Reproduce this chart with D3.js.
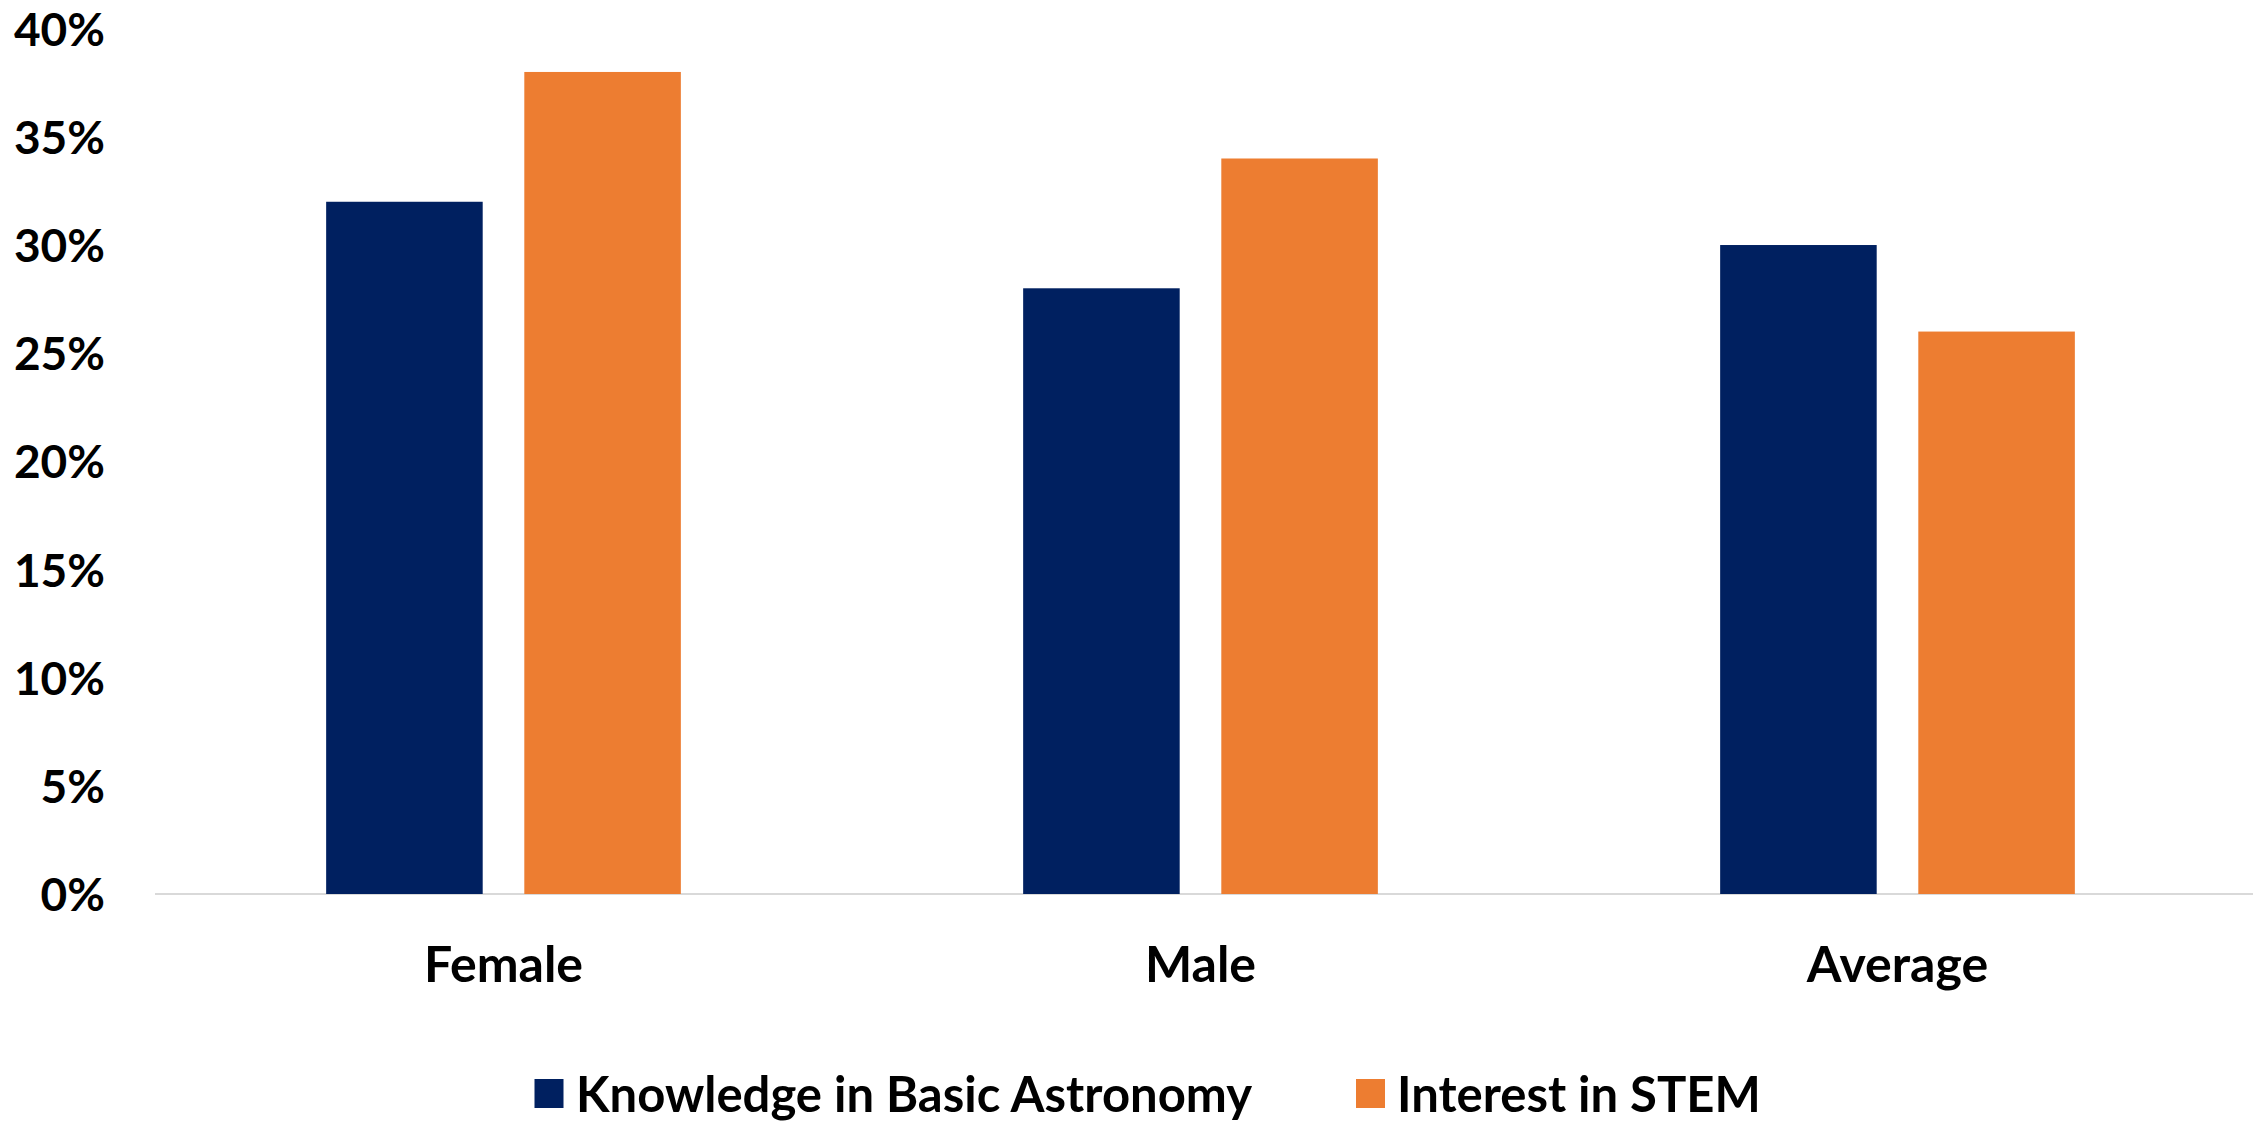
<!DOCTYPE html>
<html>
<head>
<meta charset="utf-8">
<script src="https://cdn.jsdelivr.net/npm/d3@7"></script>
<style>
  html, body { margin: 0; padding: 0; background: #ffffff; }
  svg { display: block; }
  text { font-family: Lato, "Open Sans", sans-serif; font-weight: bold; fill: #000; }
</style>
</head>
<body>
<svg id="chart" width="2253" height="1121"></svg>
<script>
const categories = ["Female", "Male", "Average"];
const seriesNames = ["Knowledge in Basic Astronomy", "Interest in STEM"];
const knowledgeValues = [0.32, 0.28, 0.30];
const interestValues = [0.38, 0.34, 0.26];
const yTicks = [0, 0.05, 0.10, 0.15, 0.20, 0.25, 0.30, 0.35, 0.40];
const seriesColors = ["#002060", "#ED7D31"];

const W = 2253, H = 1121;
const plot = { left: 155, right: 2246, top: 28.7, bottom: 894 };

const svg = d3.select("#chart");

const y = d3.scaleLinear().domain([0, 0.40]).range([plot.bottom, plot.top]);
const x0 = d3.scaleBand().domain(categories).range([plot.left, plot.right]).padding(0);
const groupW = 354.7;
const x1 = d3.scaleBand().domain(seriesNames)
  .range([(x0.bandwidth() - groupW) / 2, (x0.bandwidth() + groupW) / 2])
  .paddingInner(0.21).paddingOuter(0);

const seriesValues = [knowledgeValues, interestValues];

// baseline
svg.append("line")
  .attr("x1", plot.left).attr("x2", W)
  .attr("y1", y(0)).attr("y2", y(0))
  .attr("stroke", "#D9D9D9").attr("stroke-width", 2);

// bars
categories.forEach((c, ci) => {
  const g = svg.append("g").attr("transform", `translate(${x0(c)},0)`);
  seriesNames.forEach((s, si) => {
    const v = seriesValues[si][ci];
    g.append("rect")
      .attr("x", x1(s))
      .attr("y", y(v))
      .attr("width", x1.bandwidth())
      .attr("height", y(0) - y(v))
      .attr("fill", seriesColors[si]);
  });
});

// y axis labels
const yAxis = d3.axisLeft(y).tickValues(yTicks).tickFormat(d3.format(".0%")).tickSize(0).tickPadding(0);
const ya = svg.append("g").attr("transform", `translate(105,0)`).call(yAxis);
ya.select(".domain").remove();
ya.selectAll("text")
  .attr("font-size", 46)
  .attr("font-family", "Lato, sans-serif")
  .attr("font-weight", "bold")
  .attr("fill", "#000")
  .attr("dy", "0.36em");

// x axis labels
const xAxis = d3.axisBottom(x0).tickSize(0).tickPadding(0);
const xa = svg.append("g").attr("transform", `translate(0,982)`).call(xAxis);
xa.select(".domain").remove();
xa.selectAll("text")
  .attr("font-size", 50)
  .attr("font-family", "Lato, sans-serif")
  .attr("font-weight", "bold")
  .attr("fill", "#000")
  .attr("dy", "0");

// legend
const legendItems = [
  { name: seriesNames[0], color: seriesColors[0], sq: 534.5, tx: 576 },
  { name: seriesNames[1], color: seriesColors[1], sq: 1356, tx: 1397 }
];
const lg = svg.append("g");
legendItems.forEach(it => {
  lg.append("rect").attr("x", it.sq).attr("y", 1079).attr("width", 29).attr("height", 29).attr("fill", it.color);
  lg.append("text").attr("x", it.tx).attr("y", 1112).attr("font-size", 49).text(it.name);
});
</script>
</body>
</html>
